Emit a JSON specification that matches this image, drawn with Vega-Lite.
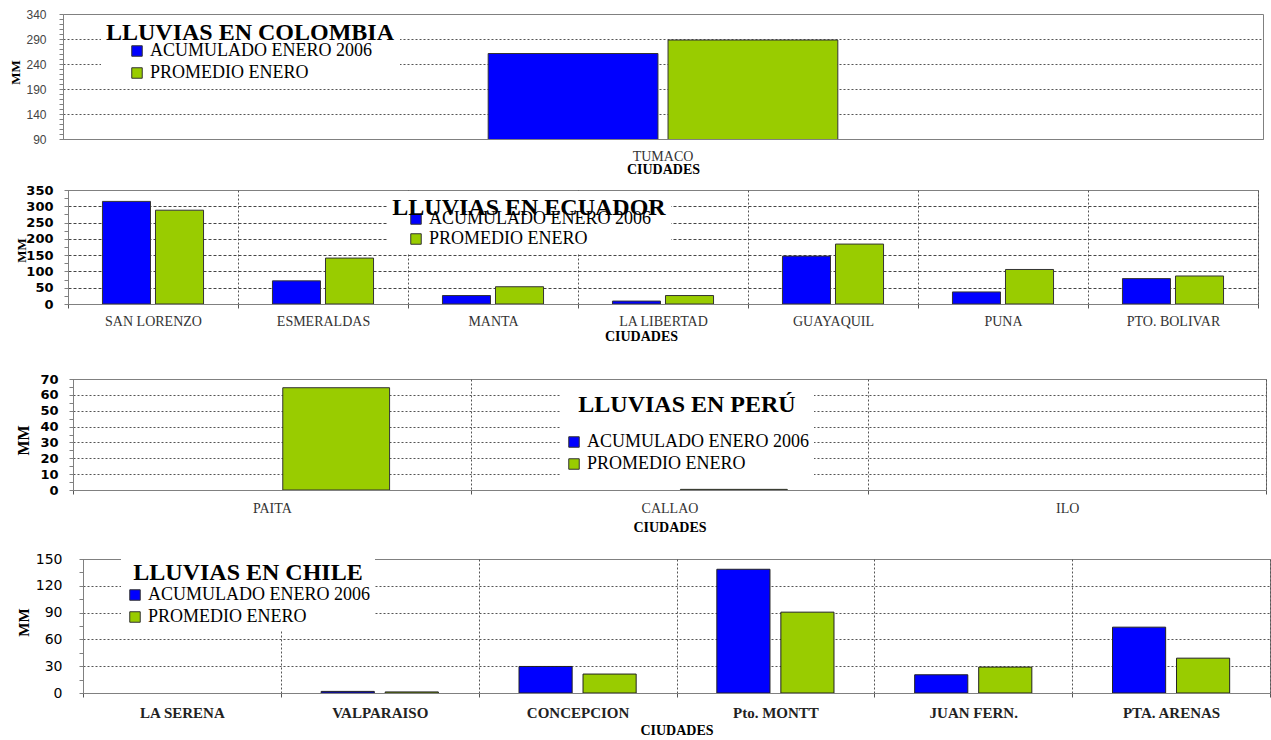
{
  "$schema": "https://vega.github.io/schema/vega-lite/v6.json",
  "background": "white",
  "padding": {"left": 2, "top": 7, "right": 0, "bottom": 0},
  "spacing": 0,
  "datasets": {
    "colombia": [
      {"ciudad": "TUMACO", "serie": "ACUMULADO ENERO 2006", "mm": 261},
      {"ciudad": "TUMACO", "serie": "PROMEDIO ENERO", "mm": 288}
    ],
    "ecuador": [
      {"ciudad": "SAN LORENZO", "serie": "ACUMULADO ENERO 2006", "mm": 315},
      {"ciudad": "SAN LORENZO", "serie": "PROMEDIO ENERO", "mm": 288},
      {"ciudad": "ESMERALDAS", "serie": "ACUMULADO ENERO 2006", "mm": 71},
      {"ciudad": "ESMERALDAS", "serie": "PROMEDIO ENERO", "mm": 141},
      {"ciudad": "MANTA", "serie": "ACUMULADO ENERO 2006", "mm": 26},
      {"ciudad": "MANTA", "serie": "PROMEDIO ENERO", "mm": 53},
      {"ciudad": "LA LIBERTAD", "serie": "ACUMULADO ENERO 2006", "mm": 9},
      {"ciudad": "LA LIBERTAD", "serie": "PROMEDIO ENERO", "mm": 26},
      {"ciudad": "GUAYAQUIL", "serie": "ACUMULADO ENERO 2006", "mm": 147},
      {"ciudad": "GUAYAQUIL", "serie": "PROMEDIO ENERO", "mm": 184},
      {"ciudad": "PUNA", "serie": "ACUMULADO ENERO 2006", "mm": 37},
      {"ciudad": "PUNA", "serie": "PROMEDIO ENERO", "mm": 106},
      {"ciudad": "PTO. BOLIVAR", "serie": "ACUMULADO ENERO 2006", "mm": 78},
      {"ciudad": "PTO. BOLIVAR", "serie": "PROMEDIO ENERO", "mm": 86}
    ],
    "peru": [
      {"ciudad": "PAITA", "serie": "ACUMULADO ENERO 2006", "mm": 0},
      {"ciudad": "PAITA", "serie": "PROMEDIO ENERO", "mm": 64.5},
      {"ciudad": "CALLAO", "serie": "ACUMULADO ENERO 2006", "mm": 0},
      {"ciudad": "CALLAO", "serie": "PROMEDIO ENERO", "mm": 0.4},
      {"ciudad": "ILO", "serie": "ACUMULADO ENERO 2006", "mm": 0},
      {"ciudad": "ILO", "serie": "PROMEDIO ENERO", "mm": 0}
    ],
    "chile": [
      {"ciudad": "LA SERENA", "serie": "ACUMULADO ENERO 2006", "mm": 0},
      {"ciudad": "LA SERENA", "serie": "PROMEDIO ENERO", "mm": 0},
      {"ciudad": "VALPARAISO", "serie": "ACUMULADO ENERO 2006", "mm": 1.8},
      {"ciudad": "VALPARAISO", "serie": "PROMEDIO ENERO", "mm": 1.2},
      {"ciudad": "CONCEPCION", "serie": "ACUMULADO ENERO 2006", "mm": 29.7},
      {"ciudad": "CONCEPCION", "serie": "PROMEDIO ENERO", "mm": 21.2},
      {"ciudad": "Pto. MONTT", "serie": "ACUMULADO ENERO 2006", "mm": 138.5},
      {"ciudad": "Pto. MONTT", "serie": "PROMEDIO ENERO", "mm": 90.5},
      {"ciudad": "JUAN FERN.", "serie": "ACUMULADO ENERO 2006", "mm": 20.4},
      {"ciudad": "JUAN FERN.", "serie": "PROMEDIO ENERO", "mm": 29},
      {"ciudad": "PTA. ARENAS", "serie": "ACUMULADO ENERO 2006", "mm": 73.7},
      {"ciudad": "PTA. ARENAS", "serie": "PROMEDIO ENERO", "mm": 39}
    ],
    "vacio": []
  },
  "vconcat": [
    {"spacing": 0, "resolve": {"scale": {"color": "independent", "xOffset": "independent"}, "legend": {"color": "independent"}}, "hconcat": [
    {"width": 1, "height": 1, "data": {"name": "vacio"}, "mark": "point", "encoding": {}, "view": {"stroke": null}},
    {
      "width": 1200, "height": 125,
      "data": {"name": "colombia"},
      "mark": {"type": "bar", "clip": true, "stroke": "#333333", "strokeWidth": 1},
      "encoding": {
        "x": {"field": "ciudad", "type": "nominal", "sort": null,
          "scale": {"domain": ["TUMACO"], "paddingInner": 0, "paddingOuter": 1},
          "axis": {"title": "CIUDADES", "titleFont": "Liberation Serif", "titleFontSize": 14, "titleFontWeight": "bold", "titleColor": "black", "titleY": 30, "titleBaseline": "middle",
            "labelFont": "Liberation Serif", "labelFontSize": 14, "labelColor": "#333333", "labelAngle": 0, "ticks": false, "tickSize": 0, "labelPadding": 10,
            "domainColor": "#808080", "grid": false, "minExtent": 43.5, "maxExtent": 43.5}},
        "xOffset": {"field": "serie", "type": "nominal", "scale": {"domain": ["ACUMULADO ENERO 2006", "PROMEDIO ENERO"], "paddingInner": 0.056, "paddingOuter": 0.14}},
        "y": {"field": "mm", "type": "quantitative",
          "scale": {"domain": [90, 340], "nice": false, "zero": false},
          "axis": {"title": "MM", "titleFont": "Liberation Serif", "titleFontSize": 13, "titleFontWeight": "bold", "titleColor": "black", "titleAngle": 270, "titleX": -48, "titleY": 58, "titleBaseline": "middle", "titleAlign": "center",
            "values": [90,100,110,120,130,140,150,160,170,180,190,200,210,220,230,240,250,260,270,280,290,300,310,320,330,340],
            "labelExpr": "(datum.value - 90) % 50 === 0 ? datum.label : ''",
            "labelFont": "Liberation Sans", "labelFontSize": 12, "labelColor": "#444444", "labelPadding": 13, "labelOverlap": false,
            "tickSize": 4, "tickColor": "#808080", "domainColor": "#808080",
            "grid": true, "gridDash": [2, 2], "gridColor": "#555555",
            "gridOpacity": {"condition": {"test": "(datum.value - 90) % 50 === 0 && datum.value > 90 && datum.value < 340", "value": 1}, "value": 0},
            "minExtent": 59, "maxExtent": 59}},
        "color": {"field": "serie", "type": "nominal",
          "scale": {"domain": ["ACUMULADO ENERO 2006", "PROMEDIO ENERO"], "range": ["#0000FF", "#99CC00"]},
          "legend": {"orient": "none", "legendX": 38, "legendY": 2, "title": "LLUVIAS EN COLOMBIA",
            "titleFont": "Liberation Serif", "titleFontSize": 24, "titleFontWeight": "bold", "titleColor": "black", "titleAnchor": "middle", "titlePadding": -3, "titleLimit": 700,
            "labelFont": "Liberation Serif", "labelFontSize": 18, "labelColor": "black", "labelLimit": 500,
            "symbolType": "square", "symbolSize": 110, "symbolStrokeColor": "#333333", "symbolStrokeWidth": 1, "symbolOpacity": 1,
            "rowPadding": 4, "padding": 5, "fillColor": "white"}},
        "strokeOpacity": {"condition": {"test": "datum.mm > 0", "value": 1}, "value": 0}
      }
    }]},
    {"spacing": 0, "resolve": {"scale": {"color": "independent", "xOffset": "independent"}, "legend": {"color": "independent"}}, "hconcat": [
    {"width": 6, "height": 1, "data": {"name": "vacio"}, "mark": "point", "encoding": {}, "view": {"stroke": null}},
    {
      "width": 1190, "height": 114,
      "data": {"name": "ecuador"},
      "mark": {"type": "bar", "clip": true, "stroke": "#333333", "strokeWidth": 1},
      "encoding": {
        "x": {"field": "ciudad", "type": "nominal", "sort": null,
          "scale": {"domain": ["SAN LORENZO", "ESMERALDAS", "MANTA", "LA LIBERTAD", "GUAYAQUIL", "PUNA", "PTO. BOLIVAR"], "paddingInner": 0, "paddingOuter": 0},
          "axis": {"title": "CIUDADES", "titleFont": "Liberation Serif", "titleFontSize": 14, "titleFontWeight": "bold", "titleColor": "black", "titleY": 32, "titleX": 573, "titleBaseline": "middle",
            "labelFont": "Liberation Serif", "labelFontSize": 14, "labelColor": "#333333", "labelAngle": 0, "tickSize": 4, "tickColor": "#555555", "tickBand": "extent", "labelPadding": 6,
            "domainColor": "#808080", "grid": true, "gridDash": [2, 2], "gridColor": "#555555", "minExtent": 67.5, "maxExtent": 67.5}},
        "xOffset": {"field": "serie", "type": "nominal", "scale": {"domain": ["ACUMULADO ENERO 2006", "PROMEDIO ENERO"], "paddingInner": 0.094, "paddingOuter": 0.65}},
        "y": {"field": "mm", "type": "quantitative",
          "scale": {"domain": [0, 350], "nice": false},
          "axis": {"title": "MM", "titleFont": "Liberation Serif", "titleFontSize": 13, "titleFontWeight": "bold", "titleColor": "black", "titleAngle": 270, "titleX": -47, "titleY": 60, "titleBaseline": "middle", "titleAlign": "center",
            "values": [0,25,50,75,100,125,150,175,200,225,250,275,300,325,350],
            "labelExpr": "datum.value % 50 === 0 ? datum.label : ''",
            "labelFont": "DejaVu Sans", "labelFontSize": 13, "labelFontWeight": "bold", "labelColor": "black", "labelPadding": 11, "labelOverlap": false,
            "tickSize": 4, "tickColor": "#808080", "domainColor": "#808080",
            "grid": true, "gridDash": [3, 2], "gridColor": "#444444",
            "gridOpacity": {"condition": {"test": "datum.value % 50 === 0 && datum.value > 0 && datum.value < 350", "value": 1}, "value": 0},
            "minExtent": 59, "maxExtent": 59}},
        "color": {"field": "serie", "type": "nominal",
          "scale": {"domain": ["ACUMULADO ENERO 2006", "PROMEDIO ENERO"], "range": ["#0000FF", "#99CC00"]},
          "legend": {"orient": "none", "legendX": 319, "legendY": 1, "title": "LLUVIAS EN ECUADOR",
            "titleFont": "Liberation Serif", "titleFontSize": 24, "titleFontWeight": "bold", "titleColor": "black", "titleAnchor": "middle", "titlePadding": -10, "titleLimit": 700,
            "labelFont": "Liberation Serif", "labelFontSize": 18, "labelColor": "black", "labelLimit": 500,
            "symbolType": "square", "symbolSize": 110, "symbolStrokeColor": "#333333", "symbolStrokeWidth": 1, "symbolOpacity": 1,
            "rowPadding": 2, "padding": 5, "fillColor": "white"}},
        "strokeOpacity": {"condition": {"test": "datum.mm > 0", "value": 1}, "value": 0}
      }
    }]},
    {"spacing": 0, "resolve": {"scale": {"color": "independent", "xOffset": "independent"}, "legend": {"color": "independent"}}, "hconcat": [
    {"width": 11, "height": 1, "data": {"name": "vacio"}, "mark": "point", "encoding": {}, "view": {"stroke": null}},
    {
      "width": 1193, "height": 111,
      "data": {"name": "peru"},
      "mark": {"type": "bar", "clip": true, "stroke": "#333333", "strokeWidth": 1},
      "encoding": {
        "x": {"field": "ciudad", "type": "nominal", "sort": null,
          "scale": {"domain": ["PAITA", "CALLAO", "ILO"], "paddingInner": 0, "paddingOuter": 0},
          "axis": {"title": "CIUDADES", "titleFont": "Liberation Serif", "titleFontSize": 14, "titleFontWeight": "bold", "titleColor": "black", "titleY": 37, "titleBaseline": "middle",
            "labelFont": "Liberation Serif", "labelFontSize": 14, "labelColor": "#333333", "labelAngle": 0, "tickSize": 4, "tickColor": "#555555", "tickBand": "extent", "labelPadding": 7,
            "domainColor": "#808080", "grid": true, "gridDash": [2, 2], "gridColor": "#555555", "minExtent": 60, "maxExtent": 60}},
        "xOffset": {"field": "serie", "type": "nominal", "scale": {"domain": ["ACUMULADO ENERO 2006", "PROMEDIO ENERO"], "paddingInner": 0.17, "paddingOuter": 0.63}},
        "y": {"field": "mm", "type": "quantitative",
          "scale": {"domain": [0, 70], "nice": false},
          "axis": {"title": "MM", "titleFont": "Liberation Serif", "titleFontSize": 16, "titleFontWeight": "bold", "titleColor": "black", "titleAngle": 270, "titleX": -50, "titleY": 61, "titleBaseline": "middle", "titleAlign": "center",
            "values": [0,5,10,15,20,25,30,35,40,45,50,55,60,65,70],
            "labelExpr": "datum.value % 10 === 0 ? datum.label : ''",
            "labelFont": "DejaVu Sans", "labelFontSize": 13, "labelFontWeight": "bold", "labelColor": "black", "labelPadding": 11, "labelOverlap": false,
            "tickSize": 4, "tickColor": "#808080", "domainColor": "#808080",
            "grid": true, "gridDash": [2, 2], "gridColor": "#555555",
            "gridOpacity": {"condition": {"test": "datum.value % 10 === 0 && datum.value > 0 && datum.value < 70", "value": 1}, "value": 0},
            "minExtent": 59, "maxExtent": 59}},
        "color": {"field": "serie", "type": "nominal",
          "scale": {"domain": ["ACUMULADO ENERO 2006", "PROMEDIO ENERO"], "range": ["#0000FF", "#99CC00"]},
          "legend": {"orient": "none", "legendX": 487, "legendY": 9, "title": "LLUVIAS EN PERÚ",
            "titleFont": "Liberation Serif", "titleFontSize": 24, "titleFontWeight": "bold", "titleColor": "black", "titleAnchor": "middle", "titlePadding": 16, "titleLimit": 700,
            "labelFont": "Liberation Serif", "labelFontSize": 18, "labelColor": "black", "labelLimit": 500,
            "symbolType": "square", "symbolSize": 110, "symbolStrokeColor": "#333333", "symbolStrokeWidth": 1, "symbolOpacity": 1,
            "rowPadding": 4, "padding": 5, "fillColor": "white"}},
        "strokeOpacity": {"condition": {"test": "datum.mm > 0", "value": 1}, "value": 0}
      }
    }]},
    {"spacing": 0, "resolve": {"scale": {"color": "independent", "xOffset": "independent"}, "legend": {"color": "independent"}}, "hconcat": [
    {"width": 11, "height": 1, "data": {"name": "vacio"}, "mark": "point", "encoding": {}, "view": {"stroke": null}},
    {
      "width": 1187, "height": 134,
      "data": {"name": "chile"},
      "mark": {"type": "bar", "clip": true, "stroke": "#222222", "strokeWidth": 1},
      "encoding": {
        "x": {"field": "ciudad", "type": "nominal", "sort": null,
          "scale": {"domain": ["LA SERENA", "VALPARAISO", "CONCEPCION", "Pto. MONTT", "JUAN FERN.", "PTA. ARENAS"], "paddingInner": 0, "paddingOuter": 0},
          "axis": {"title": "CIUDADES", "titleFont": "Liberation Serif", "titleFontSize": 14, "titleFontWeight": "bold", "titleColor": "black", "titleY": 37, "titleBaseline": "middle",
            "labelFont": "Liberation Serif", "labelFontSize": 15, "labelFontWeight": "bold", "labelColor": "#222222", "labelAngle": 0, "tickSize": 4, "tickColor": "#555555", "tickBand": "extent", "labelPadding": 8,
            "domainColor": "#808080", "grid": true, "gridDash": [2, 2], "gridColor": "#555555", "minExtent": 44, "maxExtent": 44}},
        "xOffset": {"field": "serie", "type": "nominal", "scale": {"domain": ["ACUMULADO ENERO 2006", "PROMEDIO ENERO"], "paddingInner": 0.17, "paddingOuter": 0.63}},
        "y": {"field": "mm", "type": "quantitative",
          "scale": {"domain": [0, 150], "nice": false},
          "axis": {"title": "MM", "titleFont": "Liberation Serif", "titleFontSize": 15, "titleFontWeight": "bold", "titleColor": "black", "titleAngle": 270, "titleX": -60, "titleY": 63, "titleBaseline": "middle", "titleAlign": "center",
            "values": [0,15,30,45,60,75,90,105,120,135,150],
            "labelExpr": "datum.value % 30 === 0 ? datum.label : ''",
            "labelFont": "DejaVu Sans", "labelFontSize": 14, "labelColor": "black", "labelPadding": 17, "labelOverlap": false,
            "tickSize": 4, "tickColor": "#808080", "domainColor": "#808080",
            "grid": true, "gridDash": [2, 2], "gridColor": "#555555",
            "gridOpacity": {"condition": {"test": "datum.value % 30 === 0 && datum.value > 0 && datum.value < 150", "value": 1}, "value": 0},
            "minExtent": 69, "maxExtent": 69}},
        "color": {"field": "serie", "type": "nominal",
          "scale": {"domain": ["ACUMULADO ENERO 2006", "PROMEDIO ENERO"], "range": ["#0000FF", "#99CC00"]},
          "legend": {"orient": "none", "legendX": 38, "legendY": -3, "title": "LLUVIAS EN CHILE",
            "titleFont": "Liberation Serif", "titleFontSize": 24, "titleFontWeight": "bold", "titleColor": "black", "titleAnchor": "middle", "titlePadding": 1, "titleLimit": 700,
            "labelFont": "Liberation Serif", "labelFontSize": 18, "labelColor": "black", "labelLimit": 500,
            "symbolType": "square", "symbolSize": 110, "symbolStrokeColor": "#333333", "symbolStrokeWidth": 1, "symbolOpacity": 1,
            "rowPadding": 4, "padding": 5, "fillColor": "white"}},
        "strokeOpacity": {"condition": {"test": "datum.mm > 0", "value": 1}, "value": 0}
      }
    }]}
  ],
  "resolve": {"scale": {"color": "independent", "xOffset": "independent", "x": "independent", "y": "independent"}, "legend": {"color": "independent"}},
  "config": {
    "view": {"stroke": "#808080", "strokeWidth": 1}
  }
}
